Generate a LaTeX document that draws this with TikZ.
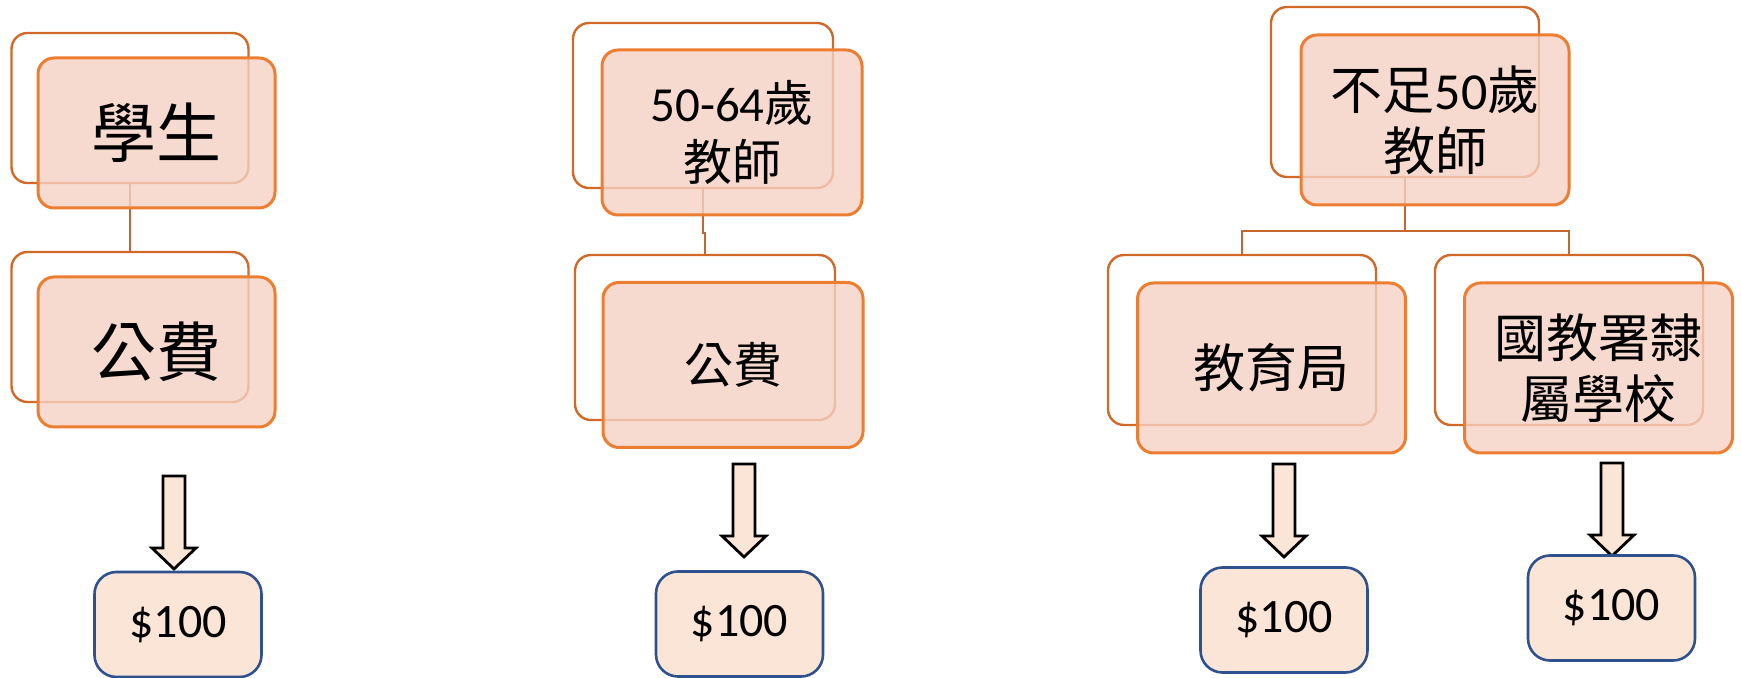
\documentclass[tikz,border=0pt]{standalone}
\usepackage{fontspec}
\setmainfont{Carlito}
\newfontfamily\cjk{Noto Sans CJK TC}
\definecolor{backc}{RGB}{210,105,40}
\definecolor{frontc}{RGB}{237,125,49}
\definecolor{frontfill}{RGB}{245,209,196}
\definecolor{connc}{RGB}{200,100,45}
\definecolor{moneyfill}{RGB}{251,229,214}
\definecolor{moneyc}{RGB}{47,82,143}
\tikzset{
  backbox/.style={draw=backc, line width=1.2pt, fill=white, rounded corners=8pt, inner sep=0pt},
  frontbox/.style={draw=frontc, line width=1.5pt, fill=frontfill, fill opacity=0.8, text opacity=1,
                   rounded corners=8pt, inner sep=0pt, align=center},
  sizeA/.style={minimum width=118.5pt, minimum height=75pt},
  sizeB/.style={minimum width=130pt, minimum height=82.5pt},
  sizeC/.style={minimum width=134pt, minimum height=85pt},
  conn/.style={draw=connc, line width=1.2pt},
  moneybox/.style={draw=moneyc, line width=1.3pt, fill=moneyfill, rounded corners=11pt,
                   minimum width=83.5pt, minimum height=52.5pt, inner sep=0pt,
                   font=\fontsize{24}{28}\selectfont},
  arrowstyle/.style={draw=black, line width=1.4pt, fill=moneyfill, line join=miter},
  downarrow/.pic={\path[arrowstyle] (-11,0) -- (-11,72) -- (-22,72) -- (0,93) -- (22,72) -- (11,72) -- (11,0) -- cycle;},
  fontA/.style={font=\fontsize{32.5}{37}\selectfont},
  fontB/.style={font=\fontsize{24.5}{29.5}\selectfont},
  fontC/.style={font=\fontsize{26}{30.5}\selectfont}
}
\begin{document}
\begin{tikzpicture}[x=0.5pt,y=-0.5pt]
\useasboundingbox (0,0) rectangle (1741,678);

% ---------- column 1
\node[backbox, sizeA] (a1) at (130,108) {};
\node[backbox, sizeA] (a2) at (130,327) {};
\draw[conn] (a1.south) -- (a2.north);
\node[frontbox, sizeA, fontA] (fa1) at (156.5,133) {\cjk 學生};
\node[frontbox, sizeA, fontA] (fa2) at (156.5,352) {\cjk 公費};
\pic at (174,476) {downarrow};
\node[moneybox] (ma) at (178,624.5) {\$100};

% ---------- column 2
\node[backbox, sizeB] (b1) at (703,105.5) {};
\node[backbox, sizeB] (b2) at (705,337.5) {};
\draw[conn] (b1.south) -- ++(0,44) -| (b2.north);
\node[frontbox, sizeB, fontB] (fb1) at (732,132.5) {50-64{\cjk 歲}\\{\cjk 教師}};
\node[frontbox, sizeB, fontB] (fb2) at (733,365) {\cjk 公費};
\pic at (744,464) {downarrow};
\node[moneybox] (mb) at (739.5,624) {\$100};

% ---------- column 3
\node[backbox, sizeC] (c1) at (1405,92) {};
\node[backbox, sizeC] (c2) at (1242,340) {};
\node[backbox, sizeC] (c3) at (1569,340) {};
\draw[conn] (c1.south) -- ++(0,53) coordinate (cj);
\draw[conn] (c2.north) |- (cj) -| (c3.north);
\node[frontbox, sizeC, fontC] (fc1) at (1435,120) {{\cjk 不足}50{\cjk 歲}\\{\cjk 教師}};
\node[frontbox, sizeC, fontC] (fc2) at (1271.5,368) {\cjk 教育局};
\node[frontbox, sizeC, fontC] (fc3) at (1598.5,368) {{\cjk 國教署隸}\\{\cjk 屬學校}};
\pic at (1284,464) {downarrow};
\node[moneybox] (mc) at (1284,620) {\$100};
\pic at (1612,463) {downarrow};
\node[moneybox] (md) at (1611.5,608) {\$100};
\end{tikzpicture}
\end{document}
